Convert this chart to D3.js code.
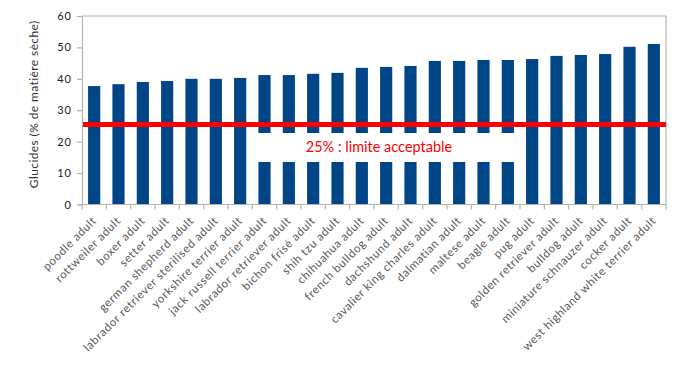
<!DOCTYPE html>
<html><head><meta charset="utf-8">
<script src="https://cdn.jsdelivr.net/npm/d3@7"></script>
<style>body{margin:0;background:#fff}svg{display:block}</style>
</head><body>
<svg id="chart" width="700" height="376"></svg>
<script>
const categories = ["poodle adult","rottweiler adult","boxer adult","setter adult","german shepherd adult","labrador retriever sterilised adult","yorkshire terrier adult","jack russell terrier adult","labrador retriever adult","bichon frisé adult","shih tzu adult","chihuahua adult","french bulldog adult","dachshund adult","cavalier king charles adult","dalmatian adult","maltese adult","beagle adult","pug adult","golden retriever adult","bulldog adult","miniature schnauzer adult","cocker adult","west highland white terrier adult"];
const values = [37.7,38.3,39.0,39.3,40.0,40.0,40.3,41.2,41.2,41.6,41.9,43.5,43.8,44.1,45.7,45.7,46.0,46.0,46.3,47.3,47.6,47.9,50.2,51.1];
const yTicks = [0,10,20,30,40,50,60];
const limitValue = 25.5;
const limitLabel = "25% : limite acceptable";
const yTitle = "Glucides (% de matière sèche)";

const svg = d3.select("#chart");
const L = 82, R = 666, T = 16, B = 204.5;
const x = d3.scaleBand().domain(categories).range([L, R]).paddingInner(0.5).paddingOuter(0.25);
const y = d3.scaleLinear().domain([0, 60]).range([B, T]);
const font = "Lato, 'Open Sans', sans-serif";

// frame
svg.append("path").attr("d", `M${L},${T}H${R}V${B}`).attr("fill","none").attr("stroke","#b3b3b3").attr("stroke-width",1.2);

// bars
svg.append("g").selectAll("rect").data(values).join("rect")
  .attr("x", (d,i) => x(categories[i])).attr("width", x.bandwidth())
  .attr("y", d => y(d)).attr("height", d => y(0) - y(d))
  .attr("fill", "#004586");

// y axis
const ya = svg.append("g").attr("transform", `translate(${L},0)`)
  .call(d3.axisLeft(y).tickValues(yTicks).tickSize(5).tickPadding(5));
ya.selectAll("path,line").attr("stroke","#b3b3b3").attr("stroke-width",1.2);
ya.selectAll("text").attr("font-family", font).attr("font-size", 11).attr("fill","#222").attr("letter-spacing","1px");

// x axis
const xa = svg.append("g").attr("transform", `translate(0,${B})`);
xa.append("line").attr("x1", L).attr("x2", R).attr("stroke","#b3b3b3").attr("stroke-width",1.2);
const bounds = d3.range(categories.length + 1).map(i => L + i * (R - L) / categories.length);
xa.selectAll("line.tk").data(bounds).join("line").attr("class","tk")
  .attr("x1", d => d).attr("x2", d => d).attr("y1", 0).attr("y2", 5)
  .attr("stroke","#b3b3b3").attr("stroke-width",1.2);
xa.selectAll("text").data(categories).join("text")
  .attr("transform", d => `translate(${x(d) + x.bandwidth()/2 + 3},${17}) rotate(-45)`)
  .attr("text-anchor","end").attr("font-family", font).attr("font-size", 11.5)
  .attr("letter-spacing","0.6px")
  .attr("fill","#595959").text(d => d);

// white label box
const i0 = categories.indexOf("jack russell terrier adult"), i1 = categories.indexOf("beagle adult");
const boxL = x(categories[i0]) - 8, boxR = x(categories[i1]) + x.bandwidth() + 4;
svg.append("rect").attr("x", boxL).attr("width", boxR - boxL).attr("y", 133).attr("height", 29).attr("fill","#fff");

// limit line
svg.append("line").attr("x1", L + 1).attr("x2", R).attr("y1", y(limitValue)).attr("y2", y(limitValue))
  .attr("stroke","#ff0000").attr("stroke-width",5);

svg.append("text").attr("x", 379).attr("y", 152).attr("text-anchor","middle")
  .attr("font-family", font).attr("font-size", 14.5).attr("fill","#ff0000").text(limitLabel);

// y title
svg.append("text").attr("transform", `translate(38,${(T+B)/2 - 6}) rotate(-90)`)
  .attr("text-anchor","middle").attr("font-family", font).attr("font-size", 12)
  .attr("letter-spacing","0.4px").attr("fill","#333").text(yTitle);
</script>
</body></html>
